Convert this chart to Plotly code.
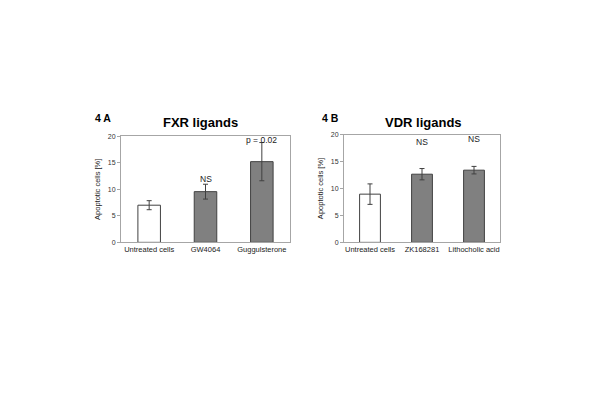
import plotly.graph_objects as go

# Panel A: FXR ligands
cats_a = ["Untreated cells", "GW4064", "Guggulsterone"]
vals_a = [7.0, 9.55, 15.2]
err_a = [0.85, 1.4, 3.6]
fill_a = ["white", "#808080", "#808080"]
notes_a = ["", "NS", "p = 0.02"]
note_y_a = [None, 10.6, 17.9]

# Panel B: VDR ligands
cats_b = ["Untreated cells", "ZK168281", "Lithocholic acid"]
vals_b = [8.95, 12.65, 13.4]
err_b = [1.9, 1.05, 0.7]
fill_b = ["white", "#808080", "#808080"]
notes_b = ["", "NS", "NS"]
note_y_b = [None, 17.3, 17.8]

y_ticks = [0, 5, 10, 15, 20]
font_fam = "Liberation Sans, Arial, sans-serif"
W, H, OFF = 600, 416, 8  # page body margin offset


def px(x):
    return (x - OFF) / W


def py(y):
    return 1 - (y - OFF) / H


fig = go.Figure()
for cats, vals, errs, fills, xa, ya in [
    (cats_a, vals_a, err_a, fill_a, "x", "y"),
    (cats_b, vals_b, err_b, fill_b, "x2", "y2"),
]:
    fig.add_trace(go.Bar(
        x=cats, y=vals, xaxis=xa, yaxis=ya, width=0.4,
        marker=dict(color=fills, line=dict(color="#404040", width=1)),
        error_y=dict(type="data", array=errs, color="#404040", thickness=1, width=2.5),
        showlegend=False,
    ))


def y_axis(domain, anchor):
    return dict(
        domain=domain, anchor=anchor, range=[0, 20], tickvals=y_ticks,
        showline=True, linecolor="#a6a6a6", linewidth=1, mirror=True,
        ticks="outside", tickcolor="#a6a6a6", ticklen=3,
        tickfont=dict(size=7, color="#333333", family=font_fam),
        showgrid=False, zeroline=False,
        title=dict(text="Apoptotic cells [%]", font=dict(size=7.5, color="#222222"), standoff=6),
    )


def x_axis(domain, anchor):
    return dict(
        domain=domain, anchor=anchor,
        showline=True, linecolor="#a6a6a6", linewidth=1, mirror=True,
        ticks="", tickfont=dict(size=7.5, color="#222222", family=font_fam),
        showgrid=False, zeroline=False,
    )


fig.update_layout(
    width=W, height=H, margin=dict(l=0, r=0, t=0, b=0),
    paper_bgcolor="white", plot_bgcolor="white",
    font=dict(family=font_fam, color="#000000"),
    xaxis=x_axis([px(121), px(290)], "y"),
    yaxis=y_axis([py(242.3), py(134.3)], "x"),
    xaxis2=x_axis([px(344), px(500)], "y2"),
    yaxis2=y_axis([py(242.3), py(132.7)], "x2"),
)

for cats, notes, ny, xr, yr in [(cats_a, notes_a, note_y_a, "x", "y"),
                                (cats_b, notes_b, note_y_b, "x2", "y2")]:
    for c, n, y in zip(cats, notes, ny):
        if n:
            fig.add_annotation(x=c, y=y, xref=xr, yref=yr, text=n, showarrow=False,
                               yanchor="bottom", font=dict(size=8.5, color="#222222"))

# Panel labels and titles
fig.add_annotation(x=px(93), y=py(116), xref="paper", yref="paper", text="<b>4 A</b>",
                   showarrow=False, xanchor="left", yanchor="middle", font=dict(size=10.5))
fig.add_annotation(x=px(200), y=py(120.5), xref="paper", yref="paper", text="<b>FXR ligands</b>",
                   showarrow=False, xanchor="center", yanchor="middle", font=dict(size=13))
fig.add_annotation(x=px(320), y=py(116), xref="paper", yref="paper", text="<b>4 B</b>",
                   showarrow=False, xanchor="left", yanchor="middle", font=dict(size=10.5))
fig.add_annotation(x=px(423), y=py(120.5), xref="paper", yref="paper", text="<b>VDR ligands</b>",
                   showarrow=False, xanchor="center", yanchor="middle", font=dict(size=13))

fig.write_html("out.html")
